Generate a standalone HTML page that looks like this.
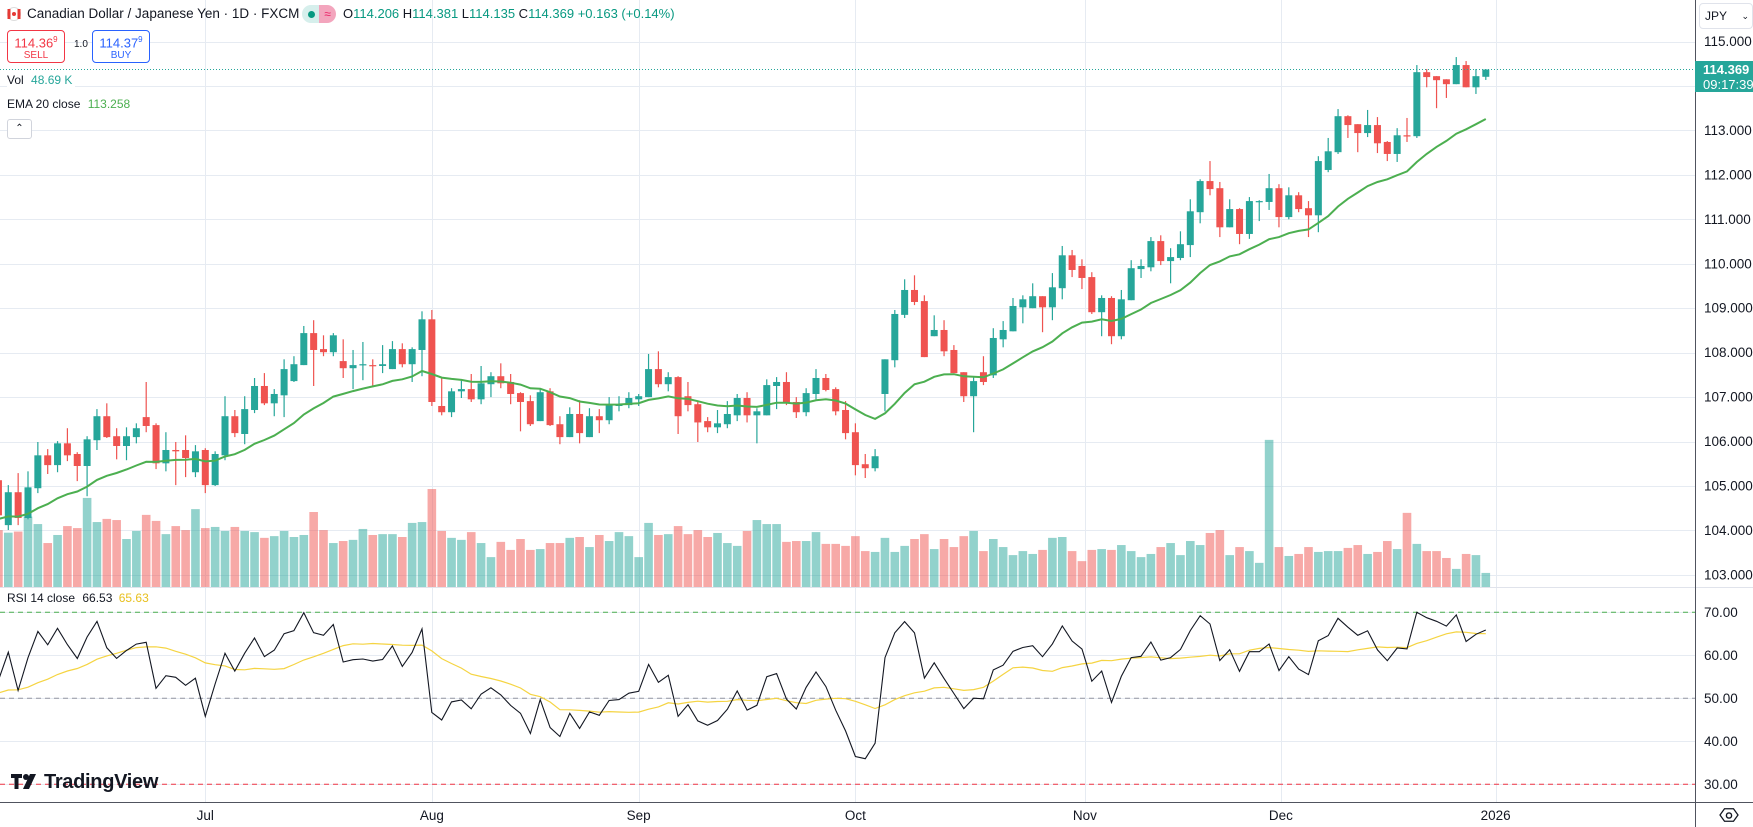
<!DOCTYPE html>
<html><head><meta charset="utf-8">
<style>
html,body{margin:0;padding:0;background:#fff;width:1753px;height:827px;overflow:hidden;font-family:"Liberation Sans",sans-serif;}
#wrap{position:relative;width:1753px;height:827px;}
#chart{position:absolute;left:0;top:0;}
.abs{position:absolute;white-space:nowrap;}
.box{position:absolute;border-radius:4px;background:#fff;text-align:center;font-size:13px;line-height:15px;}
</style></head>
<body>
<div id="wrap">
<svg id="chart" width="1753" height="827"></svg>

<div class="abs" style="left:7px;top:7px;width:14px;height:14px;">
 <svg width="14" height="14"><circle cx="7" cy="7" r="6.5" fill="#fff" stroke="#ddd"/><rect x="0.5" y="2" width="3" height="10" fill="#e53935"/><rect x="10.5" y="2" width="3" height="10" fill="#e53935"/><circle cx="7" cy="7" r="2" fill="#e53935"/></svg>
</div>
<div class="abs" style="left:27px;top:6px;font-size:13.5px;color:#131722;">Canadian Dollar / Japanese Yen · 1D · FXCM</div>
<div class="abs" style="left:302px;top:5px;width:34px;height:18px;border-radius:9px;overflow:hidden;">
 <div style="position:absolute;left:0;top:0;width:17px;height:18px;background:#d6efec;"></div>
 <div style="position:absolute;left:17px;top:0;width:17px;height:18px;background:#f3a5bd;color:#e91e63;font-size:12px;line-height:18px;text-align:center;">≈</div>
 <div style="position:absolute;left:6px;top:6px;width:7px;height:7px;border-radius:50%;background:#089981;"></div>
</div>
<div class="abs" style="left:343px;top:6px;font-size:13px;color:#131722;">O<span style="color:#089981">114.206</span> H<span style="color:#089981">114.381</span> L<span style="color:#089981">114.135</span> C<span style="color:#089981">114.369 +0.163 (+0.14%)</span></div>

<div class="box" style="left:7px;top:30px;width:56px;height:31px;border:1px solid #f23645;color:#f23645;"><div style="font-size:13px;margin-top:1px">114.36<sup style="font-size:8px">9</sup></div><div style="font-size:10px;line-height:12px">SELL</div></div>
<div class="abs" style="left:74px;top:39px;font-size:10px;color:#131722;">1.0</div>
<div class="box" style="left:92px;top:30px;width:56px;height:31px;border:1px solid #2962ff;color:#2962ff;"><div style="font-size:13px;margin-top:1px">114.37<sup style="font-size:8px">9</sup></div><div style="font-size:10px;line-height:12px">BUY</div></div>

<div class="abs" style="left:7px;top:73px;font-size:12px;color:#131722;background:#fff;padding-right:3px;">Vol <span style="color:#26a69a;margin-left:4px">48.69 K</span></div>
<div class="abs" style="left:7px;top:97px;font-size:12px;color:#131722;">EMA 20 close <span style="color:#4caf50;margin-left:4px">113.258</span></div>
<div class="abs" style="left:7px;top:119px;width:23px;height:18px;border:1px solid #d1d4dc;border-radius:3px;text-align:center;font-size:10px;line-height:18px;color:#131722;background:#fff;">⌃</div>
<div class="abs" style="left:7px;top:591px;font-size:12px;color:#131722;">RSI 14 close <span style="color:#131722;margin-left:4px">66.53</span> <span style="color:#e8c020;margin-left:3px">65.63</span></div>

<div class="abs" style="left:1699px;top:3px;width:52px;height:24px;border:1px solid #e0e3eb;border-radius:4px;font-size:12px;line-height:24px;color:#131722;background:#fff;"><span style="margin-left:5px">JPY</span><span style="position:absolute;right:3px;font-size:9px">⌄</span></div>

<div class="abs" style="left:1695px;top:61px;width:58px;height:31px;background:#26a69a;color:#fff;font-size:13px;line-height:15px;"><div style="margin:1px 0 0 8px;font-weight:bold">114.369</div><div style="margin-left:8px">09:17:39</div></div>

<div class="abs" style="left:11px;top:771px;font-size:20px;font-weight:bold;color:#131722;letter-spacing:-0.3px;">
 <svg width="30" height="18" style="vertical-align:-2px;margin-right:3px"><path d="M0 2h11v4H7.5v11H3.5V6H0z" fill="#131722"/><circle cx="15" cy="5" r="3" fill="#131722"/><path d="M19 2h6l-7 15h-6z" fill="#131722"/></svg>TradingView
</div>
<div class="abs" style="left:1719px;top:806px;width:20px;height:20px;"><svg width="20" height="20"><path d="M5 3h10l5 7-5 7H5L0 10z" fill="none" stroke="#131722" stroke-width="1.4" transform="translate(1,0) scale(0.9)"/><circle cx="10" cy="9.5" r="2.6" fill="none" stroke="#131722" stroke-width="1.4"/></svg></div>
</div>

<script>
// ---- data (CAD/JPY daily) ----
const opens=[105.13,104.12,104.86,104.28,104.95,105.69,105.47,105.96,105.72,105.45,
106.03,106.57,106.12,105.90,106.10,106.55,106.37,105.51,105.81,105.81,
105.31,105.81,105.02,105.69,106.57,106.17,106.71,107.25,106.86,107.04,
107.36,107.72,108.44,108.08,108.01,107.81,107.65,107.72,107.72,107.70,
107.63,108.08,107.74,108.06,108.75,106.80,106.66,107.13,107.18,106.95,
107.29,107.47,107.34,107.09,106.91,106.46,107.13,106.39,106.10,106.62,
106.10,106.57,106.48,106.80,106.82,106.95,107.00,107.63,107.29,107.45,
107.02,106.84,106.46,106.32,106.39,106.59,106.98,106.59,106.59,107.25,
107.34,106.89,106.66,107.07,107.43,107.18,106.71,106.21,105.49,105.40,
107.07,107.83,108.85,109.41,109.16,108.37,108.51,108.06,107.56,107.02,
107.56,107.49,108.30,108.48,109.02,109.00,109.27,109.02,109.45,110.19,
109.95,109.70,108.91,109.23,108.37,109.18,109.88,109.92,110.51,110.06,
110.13,110.42,111.16,111.86,111.70,110.82,111.23,110.67,111.39,111.39,
111.70,111.05,111.54,111.25,111.09,112.11,112.51,113.32,113.14,112.94,
113.12,112.74,112.47,112.89,112.87,114.31,114.22,114.15,114.04,114.47,
113.97,114.206];
const highs=[105.36,105.02,105.29,105.33,105.99,105.83,106.01,106.30,105.76,106.12,
106.73,106.86,106.30,106.32,106.41,107.34,106.41,106.21,105.99,106.14,
105.92,105.85,105.78,107.02,106.71,107.02,107.43,107.54,107.18,107.85,
107.92,108.60,108.73,108.39,108.44,108.30,108.06,108.24,107.85,108.17,
108.26,108.21,108.12,108.93,108.96,107.45,107.20,107.40,107.52,107.70,
107.56,107.76,107.52,107.11,107.04,107.18,107.20,106.57,106.77,106.93,
106.75,106.73,107.00,107.02,107.11,107.07,107.97,108.03,107.56,107.47,
107.34,106.89,106.55,106.71,106.91,107.07,107.11,106.75,107.40,107.45,
107.56,107.00,107.20,107.63,107.52,107.22,106.91,106.41,105.72,105.83,
107.85,108.96,109.65,109.74,109.29,108.84,108.73,108.17,107.56,107.47,
107.92,108.55,108.71,109.23,109.29,109.56,109.27,109.79,110.40,110.31,
110.10,109.81,109.29,109.27,109.41,110.08,110.10,110.60,110.64,110.35,
110.73,111.45,111.90,112.31,111.84,111.45,111.25,111.50,111.43,112.02,
111.79,111.72,111.61,111.41,112.42,112.83,113.48,113.34,113.14,113.46,
113.30,112.76,113.05,113.28,114.47,114.38,114.22,114.15,114.65,114.56,
114.38,114.381];
const lows=[104.23,104.01,104.12,104.25,104.84,105.27,105.31,105.56,105.11,104.77,
105.81,106.08,105.60,105.58,105.96,106.21,105.38,105.33,105.02,105.20,
105.20,104.84,105.00,105.58,106.10,105.94,106.64,106.82,106.57,106.55,
107.34,107.72,107.25,107.92,107.92,107.43,107.18,107.38,107.22,107.54,
107.63,107.67,107.34,107.47,106.80,106.59,106.55,106.98,106.89,106.84,
107.00,107.20,106.84,106.23,106.35,106.46,106.35,105.94,106.10,105.96,
106.10,106.19,106.39,106.68,106.75,106.80,107.00,107.22,107.13,106.17,
106.68,105.99,106.21,106.19,106.30,106.46,106.43,105.96,106.59,106.73,
106.82,106.53,106.57,106.95,107.13,106.59,106.05,105.24,105.18,105.33,
106.68,107.67,108.78,109.07,107.90,108.37,107.92,107.54,106.89,106.21,
107.27,107.43,108.12,108.48,108.66,109.00,108.46,108.73,109.20,109.70,
109.43,108.87,108.37,108.19,108.30,109.18,109.68,109.83,109.97,109.56,
110.08,110.15,110.91,111.54,110.60,110.82,110.44,110.56,110.96,111.21,
110.82,111.00,111.16,110.60,110.71,112.06,112.47,112.83,112.51,112.85,
112.49,112.31,112.29,112.74,112.83,113.97,113.50,113.73,114.04,113.97,
113.82,114.135];
const closes=[104.34,104.86,104.28,104.97,105.69,105.47,105.96,105.69,105.45,106.05,
106.57,106.10,105.90,106.12,106.30,106.35,105.51,105.81,105.78,105.63,
105.78,105.02,105.72,106.57,106.19,106.73,107.25,106.86,107.07,107.63,
107.74,108.44,108.06,108.01,108.39,107.65,107.72,107.74,107.70,107.74,
108.08,107.74,108.08,108.75,106.89,106.66,107.13,107.18,106.95,107.31,
107.47,107.31,107.07,106.89,106.39,107.11,106.37,106.10,106.62,106.19,
106.57,106.48,106.82,106.84,106.98,107.02,107.63,107.29,107.45,106.57,
106.82,106.43,106.32,106.41,106.62,106.98,106.59,106.68,107.27,107.34,
106.86,106.66,107.09,107.43,107.16,106.68,106.19,105.47,105.40,105.67,
107.85,108.87,109.41,109.14,107.90,108.51,108.03,107.54,107.02,107.36,
107.34,108.33,108.51,109.05,109.20,109.27,109.02,109.47,110.19,109.86,
109.68,108.91,109.23,108.37,109.20,109.90,109.95,110.51,110.06,110.15,
110.44,111.18,111.86,111.68,110.82,111.23,110.67,111.41,111.41,111.70,
111.05,111.54,111.23,111.09,112.31,112.53,113.32,113.12,112.94,113.12,
112.71,112.47,112.89,112.87,114.31,114.20,114.13,114.04,114.47,113.97,
114.22,114.369];
const volumesK=[198,189,193,245,219,153,181,212,205,310,
226,237,233,167,195,251,230,184,212,198,
271,205,209,195,209,195,191,171,177,195,
174,181,261,198,153,160,164,202,181,184,
184,174,223,226,341,195,171,164,191,153,
104,157,129,167,129,132,153,153,171,174,
139,181,160,191,177,104,223,181,184,212,
184,198,174,188,153,143,195,233,219,219,
157,160,160,191,150,150,143,177,125,122,
171,122,143,167,184,132,167,139,177,195,
125,167,139,111,125,115,129,171,174,125,
90,129,132,129,146,125,104,115,139,153,
111,160,146,188,198,111,139,125,84,512,
139,108,115,139,122,125,125,136,146,115,
122,160,132,258,150,125,125,101,63,115,
111,49];
const priceTicks=[115,114,113,112,111,110,109,108,107,106,105,104,103];
const rsiTicks=[70,60,50,40,30];
const monthLabels=["Jun","Jul","Aug","Sep","Oct","Nov","Dec","2026"];
const monthBarIndex=[-20.8,21,44,65,87,110.3,130.2,152];
const emaPeriod=20, emaSeed=104.25;
const rsiPeriod=14, rsiSeedGain=0.13, rsiSeedLoss=0.11, rsiMaSeed=51;

// ---- scales ----
const svg=document.getElementById('chart');
const NS='http://www.w3.org/2000/svg';
const PANE_R=1695, MAIN_B=587, RSI_B=802;
const xOf=i=>-1.55+i*9.85;
const yP=p=>41.5+(115-p)*44.45;
const yR=v=>612.3+(70-v)*4.3;
const volScale=1/3.48;
const yV=v=>MAIN_B-v*volScale;
function el(tag,attrs,parent){const e=document.createElementNS(NS,tag);for(const k in attrs)e.setAttribute(k,attrs[k]);(parent||svg).appendChild(e);return e;}

const defs=el('defs',{});
const c1=el('clipPath',{id:'cMain'},defs);el('rect',{x:0,y:0,width:PANE_R,height:MAIN_B},c1);
const c2=el('clipPath',{id:'cRsi'},defs);el('rect',{x:0,y:MAIN_B,width:PANE_R,height:RSI_B-MAIN_B},c2);

const grid=el('g',{stroke:'#e6ebf2','stroke-width':1});


priceTicks.forEach(p=>{const y=Math.round(yP(p))+0.5;el('line',{x1:0,x2:PANE_R,y1:y,y2:y},grid);});
rsiTicks.forEach(v=>{const y=Math.round(yR(v))+0.5;el('line',{x1:0,x2:PANE_R,y1:y,y2:y},grid);});
monthBarIndex.forEach(b=>{const x=Math.round(xOf(b))+0.5;el('line',{x1:x,x2:x,y1:0,y2:RSI_B},grid);});

const vg=el('g',{'clip-path':'url(#cMain)'});


volumesK.forEach((v,i)=>{const up=closes[i]>=opens[i];const x=xOf(i);const y=yV(v);
 const r=el('rect',{x:x-4.3,y:y,width:8.6,height:MAIN_B-y,fill:up?'#26a69a':'#ef5350','fill-opacity':0.5},vg);
 
 });

const cg=el('g',{'clip-path':'url(#cMain)'});


closes.forEach((c,i)=>{const o=opens[i];const up=c>=o;const col=up?'#26a69a':'#ef5350';const x=xOf(i);
 const g=el('g',{},cg);
 
 
 el('line',{x1:x,x2:x,y1:yP(highs[i]),y2:yP(lows[i]),stroke:col,'stroke-width':1.2},g);
 const yt=yP(Math.max(o,c)),yb=yP(Math.min(o,c));
 el('rect',{x:x-3.5,y:yt,width:7,height:Math.max(1.2,yb-yt),fill:col},g);});

let ema=emaSeed;const emaPts=[];const a=2/(emaPeriod+1);
closes.forEach((c,i)=>{ema=a*c+(1-a)*ema;emaPts.push(xOf(i).toFixed(1)+','+yP(ema).toFixed(1));});
const emaL=el('polyline',{points:emaPts.join(' '),fill:'none',stroke:'#4caf50','stroke-width':2,'clip-path':'url(#cMain)'});



const cp=el('line',{x1:0,x2:PANE_R,y1:yP(closes[closes.length-1]),y2:yP(closes[closes.length-1]),stroke:'#26a69a','stroke-width':1,'stroke-dasharray':'1 2'});



const sep=el('line',{x1:0,x2:1753,y1:MAIN_B+0.5,y2:MAIN_B+0.5,stroke:'#e0e3eb','stroke-width':1});



[[70,'#4caf50'],[50,'#9598a1'],[30,'#f23645']].forEach(([v,c])=>{
 const l=el('line',{x1:0,x2:PANE_R,y1:yR(v),y2:yR(v),stroke:c,'stroke-width':1,'stroke-dasharray':'5 4'});
 
 });

let ag=rsiSeedGain,al=rsiSeedLoss;const rsi=[];
closes.forEach((c,i)=>{if(i>0){const d=c-closes[i-1];ag=(ag*(rsiPeriod-1)+Math.max(d,0))/rsiPeriod;al=(al*(rsiPeriod-1)+Math.max(-d,0))/rsiPeriod;}
 rsi.push(100-100/(1+ag/al));});
const win=new Array(rsiPeriod).fill(rsiMaSeed);const rsiMa=[];
rsi.forEach(v=>{win.push(v);win.shift();rsiMa.push(win.reduce((s,x)=>s+x,0)/rsiPeriod);});
const maL=el('polyline',{points:rsiMa.map((v,i)=>xOf(i).toFixed(1)+','+yR(v).toFixed(1)).join(' '),fill:'none',stroke:'#f5d442','stroke-width':1.2,'clip-path':'url(#cRsi)'});


const rL=el('polyline',{points:rsi.map((v,i)=>xOf(i).toFixed(1)+','+yR(v).toFixed(1)).join(' '),fill:'none',stroke:'#131722','stroke-width':1.1,'clip-path':'url(#cRsi)'});



const ax=el('g',{});


el('line',{x1:PANE_R+0.5,x2:PANE_R+0.5,y1:0,y2:827,stroke:'#50535e','stroke-width':1},ax);
el('line',{x1:0,x2:1753,y1:RSI_B+0.5,y2:RSI_B+0.5,stroke:'#50535e','stroke-width':1},ax);
el('rect',{x:PANE_R+1,y:MAIN_B,width:57,height:1,fill:'#e0e3eb'},ax);
priceTicks.forEach(p=>{if(Math.abs(yP(p)-yP(closes[closes.length-1]))<20)return;
 const t=el('text',{x:1704,y:yP(p)+4.5,'font-size':13.5,fill:'#131722','font-family':'Liberation Sans, sans-serif'},ax);t.textContent=p.toFixed(3);
 
 });
rsiTicks.forEach(v=>{const t=el('text',{x:1704,y:yR(v)+4.5,'font-size':13.5,fill:'#131722','font-family':'Liberation Sans, sans-serif'},ax);t.textContent=v.toFixed(2);
 
 });
monthLabels.forEach((m,k)=>{const t=el('text',{x:xOf(monthBarIndex[k]),y:820,'font-size':13.5,'text-anchor':'middle',fill:'#131722','font-family':'Liberation Sans, sans-serif'},ax);t.textContent=m;
 
 });
</script>
</body></html>
